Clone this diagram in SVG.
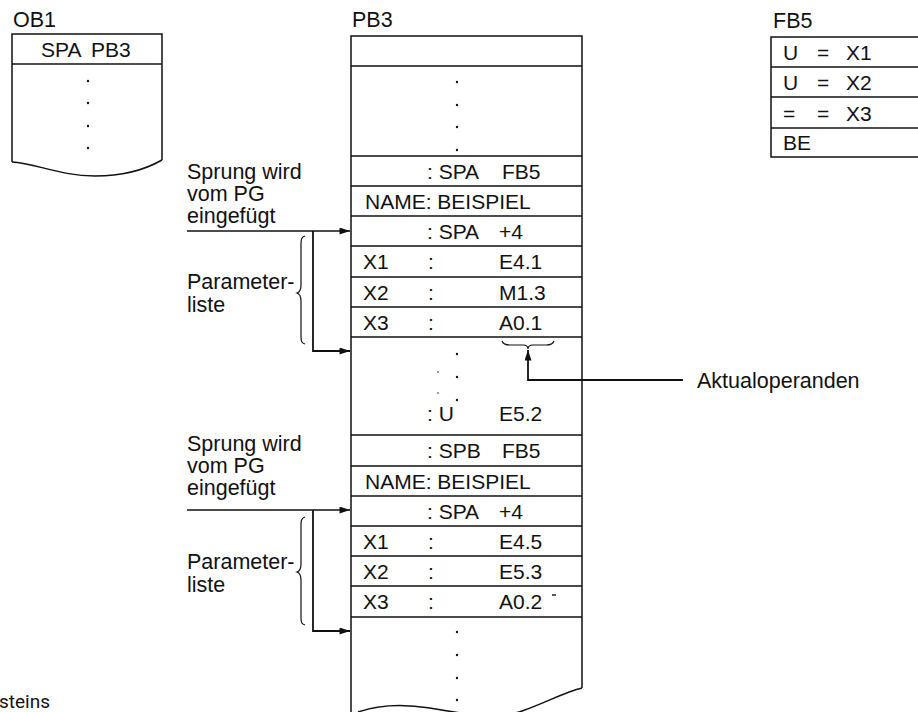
<svg xmlns="http://www.w3.org/2000/svg" width="918" height="712" viewBox="0 0 918 712">
<defs>
<style>
.t{font-family:"Liberation Sans",Arial,sans-serif;font-size:21px;fill:#111}
.l{font-family:"Liberation Sans",Arial,sans-serif;font-size:21.5px;fill:#111}
.box{fill:none;stroke:#111;stroke-width:1.5}
.ln{stroke:#111;stroke-width:1.4;fill:none}
.con{stroke:#111;stroke-width:1.8;fill:none}
.br{stroke:#111;stroke-width:1.2;fill:none}
.dot{fill:#111}
</style>
<marker id="ah" viewBox="0 0 12 8" refX="12" refY="4" markerWidth="12" markerHeight="7" markerUnits="userSpaceOnUse" orient="auto">
<path d="M0,0 L12,4 L0,8 Z" fill="#111"/>
</marker>
</defs>
<rect width="918" height="712" fill="#fff"/>

<g id="ob1">
<text class="l" x="13" y="27">OB1</text>
<path class="box" d="M12,162 L12,34 L162,34 L162,160"/>
<line class="ln" x1="12" y1="64" x2="162" y2="64"/>
<text class="t" x="41" y="57">SPA</text><text class="t" x="91" y="57">PB3</text>
<circle class="dot" cx="88" cy="81" r="1.2"/>
<circle class="dot" cx="88" cy="103" r="1.2"/>
<circle class="dot" cx="88" cy="126" r="1.2"/>
<circle class="dot" cx="88" cy="148" r="1.2"/>
<path class="box" d="M12,162 C35,163 60,176 95,176 C125,176 148,168 162,160"/>
</g>

<g id="pb3">
<text class="l" x="352" y="27">PB3</text>
<path class="box" d="M351,712 L351,36 L582,36 L582,688"/>
<g class="ln">
<line x1="351" y1="66" x2="582" y2="66"/>
<line x1="351" y1="156" x2="582" y2="156"/>
<line x1="351" y1="186" x2="582" y2="186"/>
<line x1="351" y1="216" x2="582" y2="216"/>
<line x1="351" y1="246" x2="582" y2="246"/>
<line x1="351" y1="277" x2="582" y2="277"/>
<line x1="351" y1="307" x2="582" y2="307"/>
<line x1="351" y1="337" x2="582" y2="337"/>
<line x1="351" y1="435" x2="582" y2="435"/>
<line x1="351" y1="466" x2="582" y2="466"/>
<line x1="351" y1="496" x2="582" y2="496"/>
<line x1="351" y1="526" x2="582" y2="526"/>
<line x1="351" y1="556" x2="582" y2="556"/>
<line x1="351" y1="586" x2="582" y2="586"/>
<line x1="351" y1="617" x2="582" y2="617"/>
</g>
<circle class="dot" cx="457" cy="82" r="1.2"/>
<circle class="dot" cx="457" cy="105" r="1.2"/>
<circle class="dot" cx="457" cy="127" r="1.2"/>
<circle class="dot" cx="457" cy="150" r="1.2"/>

<text class="t" x="427" y="179">: SPA</text><text class="t" x="502" y="179">FB5</text>
<text class="t" x="365" y="209">NAME: BEISPIEL</text>
<text class="t" x="427" y="239">: SPA</text><text class="t" x="499" y="239">+4</text>
<text class="t" x="363" y="269">X1</text><text class="t" x="428" y="269">:</text><text class="t" x="499" y="269">E4.1</text>
<text class="t" x="363" y="300">X2</text><text class="t" x="428" y="300">:</text><text class="t" x="499" y="300">M1.3</text>
<text class="t" x="363" y="330">X3</text><text class="t" x="428" y="330">:</text><text class="t" x="499" y="330">A0.1</text>

<circle class="dot" cx="457" cy="354" r="1.2"/>
<circle class="dot" cx="438" cy="372" r="0.9" fill-opacity="0.6"/>
<circle class="dot" cx="457" cy="377" r="1.2"/>
<circle class="dot" cx="438" cy="393" r="0.9" fill-opacity="0.6"/>
<circle class="dot" cx="457" cy="400" r="1.2"/>
<text class="t" x="427" y="421">: U</text><text class="t" x="499" y="421">E5.2</text>

<text class="t" x="427" y="458">: SPB</text><text class="t" x="502" y="458">FB5</text>
<text class="t" x="365" y="489">NAME: BEISPIEL</text>
<text class="t" x="427" y="519">: SPA</text><text class="t" x="499" y="519">+4</text>
<text class="t" x="363" y="549">X1</text><text class="t" x="428" y="549">:</text><text class="t" x="499" y="549">E4.5</text>
<text class="t" x="363" y="579">X2</text><text class="t" x="428" y="579">:</text><text class="t" x="499" y="579">E5.3</text>
<text class="t" x="363" y="609">X3</text><text class="t" x="428" y="609">:</text><text class="t" x="499" y="609">A0.2</text>
<line class="ln" x1="552" y1="595" x2="556" y2="595" stroke-width="1.2"/>

<circle class="dot" cx="457" cy="632" r="1.2"/>
<circle class="dot" cx="457" cy="655" r="1.2"/>
<circle class="dot" cx="457" cy="678" r="1.2"/>
<circle class="dot" cx="457" cy="700" r="1.2"/>
<path class="box" d="M358,712 C375,706 398,703 430,708 C465,714 495,720 522,711 C545,703 565,692 582,688"/>
</g>

<g id="fb5">
<text class="l" x="773" y="28">FB5</text>
<path class="box" d="M920,37 L771,37 L771,157 L920,157"/>
<g class="ln">
<line x1="771" y1="67" x2="920" y2="67"/>
<line x1="771" y1="97" x2="920" y2="97"/>
<line x1="771" y1="128" x2="920" y2="128"/>
</g>
<text class="t" x="783" y="60">U</text><text class="t" x="817" y="60">=</text><text class="t" x="846" y="60">X1</text>
<text class="t" x="783" y="90">U</text><text class="t" x="817" y="90">=</text><text class="t" x="846" y="90">X2</text>
<text class="t" x="783" y="121">=</text><text class="t" x="817" y="121">=</text><text class="t" x="846" y="121">X3</text>
<text class="t" x="783" y="150">BE</text>
</g>

<g id="label-sprung1">
<text class="l" x="187" y="179">Sprung wird</text>
<text class="l" x="187" y="201">vom PG</text>
<text class="l" x="187" y="223">eingefügt</text>
</g>
<g id="label-param1">
<text class="l" x="187" y="289">Parameter-</text>
<text class="l" x="187" y="312">liste</text>
</g>
<g id="label-sprung2">
<text class="l" x="187" y="451">Sprung wird</text>
<text class="l" x="187" y="473">vom PG</text>
<text class="l" x="187" y="495">eingefügt</text>
</g>
<g id="label-param2">
<text class="l" x="187" y="569">Parameter-</text>
<text class="l" x="187" y="592">liste</text>
</g>
<g id="label-aktual">
<text class="l" x="697" y="388">Aktualoperanden</text>
</g>
<text x="-1" y="708" style="font-family:Roboto,'Liberation Sans',sans-serif;font-size:19px;fill:#111">steins</text>

<g id="connectors">
<line class="ln" x1="187" y1="231" x2="350" y2="231" marker-end="url(#ah)"/>
<path class="con" d="M313,231 L313,351 L350,351" marker-end="url(#ah)"/>
<line class="ln" x1="187" y1="510" x2="350" y2="510" marker-end="url(#ah)"/>
<path class="con" d="M313,510 L313,631 L350,631" marker-end="url(#ah)"/>
<path class="br" d="M305,236 C301,237 301,240 301,246 L301,285 C301,290 300,292 297,293 C300,294 301,296 301,301 L301,337 C301,342 302,343 305,344"/>
<path class="br" d="M305,517 C301,518 301,521 301,527 L301,564 C301,569 300,571 297,572 C300,573 301,575 301,580 L301,618 C301,623 302,624 305,625"/>
<path class="br" d="M502,341 C503,344 505,345 510,345 L523,345 C526,345 528,346 528,349 C528,346 530,345 533,345 L546,345 C551,345 553,344 554,341"/>
<path class="con" d="M683,380 L528,380 L528,350" marker-end="url(#ah)"/>
</g>
</svg>
